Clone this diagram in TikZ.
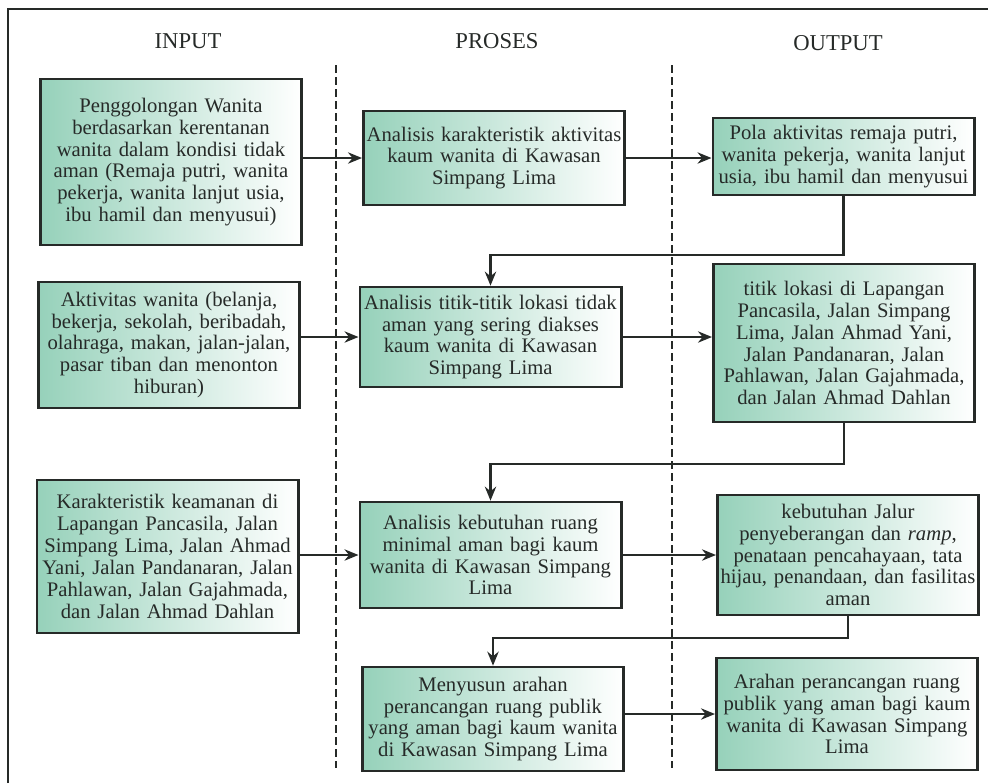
\documentclass[tikz,border=0pt]{standalone}
\usepackage{fontspec}
\setmainfont{Liberation Serif}
\usetikzlibrary{arrows.meta,calc}

\definecolor{boxgreen}{RGB}{150,209,186}
\definecolor{inkgray}{RGB}{38,42,40}

\begin{document}
\begin{tikzpicture}[x=0.75pt, y=-0.75pt,
  kotak/.style={draw=inkgray, line width=2pt, left color=boxgreen, right color=white,
    align=center, text width=196pt, inner sep=0pt, text=inkgray,
    font=\fontsize{15.5}{16.4}\selectfont},
  judul/.style={text=inkgray, font=\fontsize{17}{18}\selectfont},
  panah/.style={draw=inkgray, line width=1.6pt, -{Stealth[length=10.5pt,width=8.5pt]}},
  pemisah/.style={draw=inkgray, line width=1.4pt, dash pattern=on 6pt off 3pt}]
\useasboundingbox (0,0) rectangle (988,783);
\draw[inkgray, line width=2pt] (8,783) -- (8,9) -- (988,9);

\node[judul] (hInput) at (188,41) {INPUT};
\node[judul] (hProses) at (497,41) {PROSES};
\node[judul] (hOutput) at (838,43) {OUTPUT};

\draw[pemisah] (336,65) -- (336,768);
\draw[pemisah] (672,65) -- (672,768);

\node[kotak, minimum height=124.5pt] (in1) at (171,162) {Penggolongan Wanita\\ berdasarkan kerentanan\\ wanita dalam kondisi tidak\\ aman (Remaja putri, wanita\\ pekerja, wanita lanjut usia,\\ ibu hamil dan menyusui)};
\node[kotak, minimum height=70.5pt] (p1) at (494,158) {Analisis karakteristik aktivitas\\ kaum wanita di Kawasan\\ Simpang Lima};
\node[kotak, minimum height=57.75pt] (o1) at (843.5,156.5) {Pola aktivitas remaja putri,\\ wanita pekerja, wanita lanjut\\ usia, ibu hamil dan menyusui};
\draw[panah] (in1.east |- p1.west) -- (p1.west);
\draw[panah] (p1.east) -- (p1.east -| o1.west);

\node[kotak, minimum height=94.5pt] (in2) at (169,345) {Aktivitas wanita (belanja,\\ bekerja, sekolah, beribadah,\\ olahraga, makan, jalan-jalan,\\ pasar tiban dan menonton\\ hiburan)};
\node[kotak, minimum height=75pt] (p2) at (490.5,337) {Analisis titik-titik lokasi tidak\\ aman yang sering diakses\\ kaum wanita di Kawasan\\ Simpang Lima};
\node[kotak, minimum height=118.5pt] (o2) at (844,343) {titik lokasi di Lapangan\\ Pancasila, Jalan Simpang\\ Lima, Jalan Ahmad Yani,\\ Jalan Pandanaran, Jalan\\ Pahlawan, Jalan Gajahmada,\\ dan Jalan Ahmad Dahlan};
\draw[panah] (o1.south) -- ++(0,59) -| (p2.north);
\draw[panah] (in2.east |- p2.west) -- (p2.west);
\draw[panah] (p2.east) -- (p2.east -| o2.west);

\node[kotak, minimum height=114.75pt] (in3) at (167.5,556.5) {Karakteristik keamanan di\\ Lapangan Pancasila, Jalan\\ Simpang Lima, Jalan Ahmad\\ Yani, Jalan Pandanaran, Jalan\\ Pahlawan, Jalan Gajahmada,\\ dan Jalan Ahmad Dahlan};
\node[kotak, minimum height=79.5pt] (p3) at (490.5,555) {Analisis kebutuhan ruang\\ minimal aman bagi kaum\\ wanita di Kawasan Simpang\\ Lima};
\node[kotak, minimum height=90pt] (o3) at (848,555) {kebutuhan Jalur\\ penyeberangan dan \textit{ramp},\\ penataan pencahayaan, tata\\ hijau, penandaan, dan fasilitas\\ aman};
\draw[panah] (o2.south) -- ++(0,41) -| (p3.north);
\draw[panah] (in3.east |- p3.west) -- (p3.west);
\draw[panah] (p3.east) -- (p3.east -| o3.west);

\node[kotak, minimum height=78pt] (p4) at (493,719) {Menyusun arahan\\ perancangan ruang publik\\ yang aman bagi kaum wanita\\ di Kawasan Simpang Lima};
\node[kotak, minimum height=84pt] (o4) at (847,714) {Arahan perancangan ruang\\ publik yang aman bagi kaum\\ wanita di Kawasan Simpang\\ Lima};
\draw[panah] (o3.south) -- ++(0,22) -| (p4.north);
\draw[panah] (p4.east |- o4.west) -- (o4.west);
\end{tikzpicture}
\end{document}
